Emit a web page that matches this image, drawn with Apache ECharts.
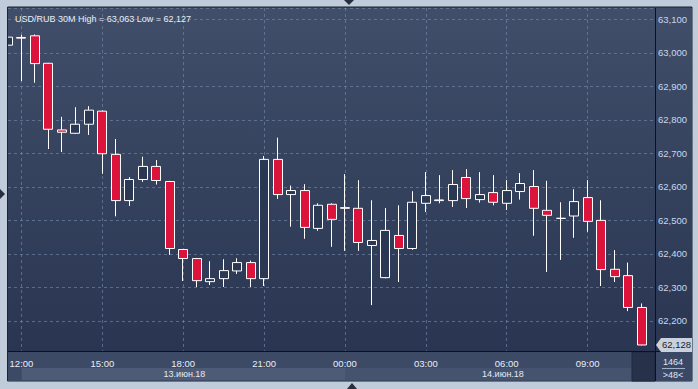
<!DOCTYPE html>
<html><head><meta charset="utf-8">
<script src="https://cdn.jsdelivr.net/npm/echarts@6/dist/echarts.min.js"></script>
<style>html,body{margin:0;padding:0;background:#c0ccd9;overflow:hidden}#c{width:698px;height:389px;}</style>
</head><body><div id="c"></div>
<script>
const times = ['11:30','12:00','12:30','13:00','13:30','14:00','14:30','15:00','15:30','16:00','16:30','17:00','17:30','18:00','18:30','19:00','19:30','20:00','20:30','21:00','21:30','22:00','22:30','23:00','23:30','00:00','00:30','01:00','01:30','02:00','02:30','03:00','03:30','04:00','04:30','05:00','05:30','06:00','06:30','07:00','07:30','08:00','08:30','09:00','09:30','10:00','10:30','11:00','11:30'];
const opens  = [63023,63046,63051,62969,62770,62760,62787,62826,62697,62559,62622,62661,62616,62413,62386,62317,62326,62349,62374,62326,62682,62577,62589,62476,62548,62538,62536,62425,62329,62455,62416,62551,62561,62559,62628,62562,62583,62551,62586,62601,62530,62506,62513,62568,62500,62354,62335,62240];
const closes = [63047,63044,62968,62772,62763,62787,62829,62699,62559,62622,62661,62619,62416,62386,62320,62326,62350,62374,62326,62682,62577,62589,62479,62545,62503,62536,62434,62440,62470,62416,62554,62574,62559,62607,62565,62577,62554,62589,62610,62536,62515,62506,62556,62497,62353,62332,62240,62128];
const lows   = [63020,62916,62911,62713,62704,62759,62755,62639,62512,62543,62615,62607,62397,62319,62301,62307,62301,62340,62301,62304,62564,62481,62445,62469,62421,62409,62409,62247,62327,62316,62412,62525,62551,62540,62537,62553,62545,62531,62562,62454,62346,62382,62448,62466,62304,62316,62229,62127];
const highs  = [63049,63054,63055,62970,62809,62838,62841,62828,62743,62629,62690,62680,62618,62414,62387,62378,62384,62387,62380,62692,62747,62604,62608,62551,62551,62638,62620,62560,62537,62545,62587,62644,62635,62650,62653,62644,62635,62620,62641,62650,62618,62554,62593,62620,62560,62411,62374,62252];
const dayLabels = ['13.июн.18','14.июн.18'];
const titleText = 'USD/RUB 30M High = 63,063 Low = 62,127';
const barTotal = '1464';
const barVisible = '>48<';

const fmt = v => Math.floor(v/1000) + ',' + String(Math.round(v % 1000)).padStart(3,'0');
const candles = opens.map((o,i)=>[o, closes[i], lows[i], highs[i]]);
const FONT = 'Liberation Sans';
const FS = 9;
const grid = {left:8, right:43, top:8, bottom:38};

const chart = echarts.init(document.getElementById('c'), null, {renderer:'svg'});
const bg = [
  {type:'rect', z:-10, shape:{x:7,y:7,width:685,height:374}, style:{fill:'#3b4864', stroke:'#1c2333', lineWidth:1}},
  {type:'rect', z:-9, shape:{x:8,y:8,width:684,height:343}, style:{fill:new echarts.graphic.LinearGradient(0,0,0,1,[{offset:0,color:'#404e6a'},{offset:1,color:'#2a3651'}])}},
  {type:'rect', z:-9, shape:{x:8,y:352,width:684,height:29}, style:{fill:'#3d4a66'}},
  {type:'rect', z:-8, shape:{x:21.7,y:368,width:323.3,height:12}, style:{fill:'#4e5b76'}},
  {type:'rect', z:-8, shape:{x:345,y:368,width:288,height:12}, style:{fill:'#46536e'}},
  {type:'rect', z:-8, shape:{x:632,y:352,width:23,height:29}, style:{fill:'#27324a', stroke:'#1f283c', lineWidth:1}},
  {type:'rect', z:-8, shape:{x:656,y:352,width:36,height:29}, style:{fill:'#3b4865'}},
  {type:'rect', z:50, shape:{x:0,y:0,width:7.5,height:389}, style:{fill:'#c0ccd9'}},
  {type:'line', z:51, shape:{x1:7.5,y1:7,x2:7.5,y2:381}, style:{stroke:'#1c2333', lineWidth:1}},
  {type:'line', z:5, shape:{x1:7,y1:351.5,x2:692,y2:351.5}, style:{stroke:'#0d1119', lineWidth:1}},
  {type:'line', z:5, shape:{x1:655.5,y1:8,x2:655.5,y2:381}, style:{stroke:'#0d1119', lineWidth:1}},
  {type:'line', z:5, shape:{x1:662,y1:368.5,x2:685,y2:368.5}, style:{stroke:'#9fb0c8', lineWidth:1}},
  {type:'text', z:5, x:673, y:361.5, style:{text:barTotal, fill:'#dfe7f2', font:FS+'px '+FONT, textAlign:'center', textVerticalAlign:'middle'}},
  {type:'text', z:5, x:673, y:374.5, style:{text:barVisible, fill:'#dfe7f2', font:FS+'px '+FONT, textAlign:'center', textVerticalAlign:'middle'}},
  {type:'text', z:5, x:184.5, y:374, style:{text:dayLabels[0], fill:'#e3eaf4', font:FS+'px '+FONT, textAlign:'center', textVerticalAlign:'middle'}},
  {type:'text', z:5, x:503, y:374, style:{text:dayLabels[1], fill:'#e3eaf4', font:FS+'px '+FONT, textAlign:'center', textVerticalAlign:'middle'}},
  {type:'polygon', z:52, shape:{points:[[344,0],[354,0],[349,5]]}, style:{fill:'#262d3c'}},
  {type:'polygon', z:52, shape:{points:[[347,389],[357,389],[352,383]]}, style:{fill:'#262d3c'}},
  {type:'polygon', z:52, shape:{points:[[0,189],[0,199],[5,194]]}, style:{fill:'#262d3c'}}
];

chart.setOption({
  animation:false,
  backgroundColor:'#c0ccd9',
  title:{text:titleText, left:10, top:9, textStyle:{color:'#e8edf5', fontSize:FS, fontWeight:'normal', fontFamily:FONT}},
  grid:grid,
  graphic:{elements:bg},
  xAxis:{type:'category', data:times, boundaryGap:false,
    axisLine:{show:false}, axisTick:{show:false},
    axisLabel:{interval:(i)=>(i-1)%6===0, color:'#e8eef6', fontSize:FS+0.5, fontFamily:FONT, margin:7, hideOverlap:false},
    splitLine:{show:true, interval:(i)=>(i-1)%6===0, lineStyle:{color:'rgba(120,140,175,0.6)', type:[3,3], width:1}}},
  yAxis:{type:'value', position:'right', min:62110, max:63134, splitNumber:10, scale:true,
    axisLine:{show:false}, axisTick:{show:false},
    axisLabel:{color:'#c8d8f0', fontSize:FS+0.5, fontFamily:FONT, margin:3, showMinLabel:false, showMaxLabel:false, formatter:fmt},
    splitLine:{show:true, lineStyle:{color:'rgba(120,140,175,0.6)', type:[3,3], width:1}}},
  series:[{type:'candlestick', data:candles, barWidth:9.5, clip:true,
    itemStyle:{color:'#2b3853', color0:'#dc143c', borderColor:'#ffffff', borderColor0:'#ffffff', borderColorDoji:'#ffffff', borderWidth:1}}]
});

const lastY = chart.convertToPixel({yAxisIndex:0}, closes[closes.length-1]);
bg.push(
  {type:'polygon', z:6, shape:{points:[[656,lastY],[661,lastY-7],[692,lastY-7],[692,lastY+7],[661,lastY+7]]}, style:{fill:'#c9d1dc'}},
  {type:'text', z:7, x:662, y:lastY, style:{text:fmt(closes[closes.length-1]), fill:'#1a2233', font:(FS+0.5)+'px '+FONT, textVerticalAlign:'middle'}}
);
chart.setOption({graphic:{elements:bg}}, {replaceMerge:['graphic']});
</script></body></html>
